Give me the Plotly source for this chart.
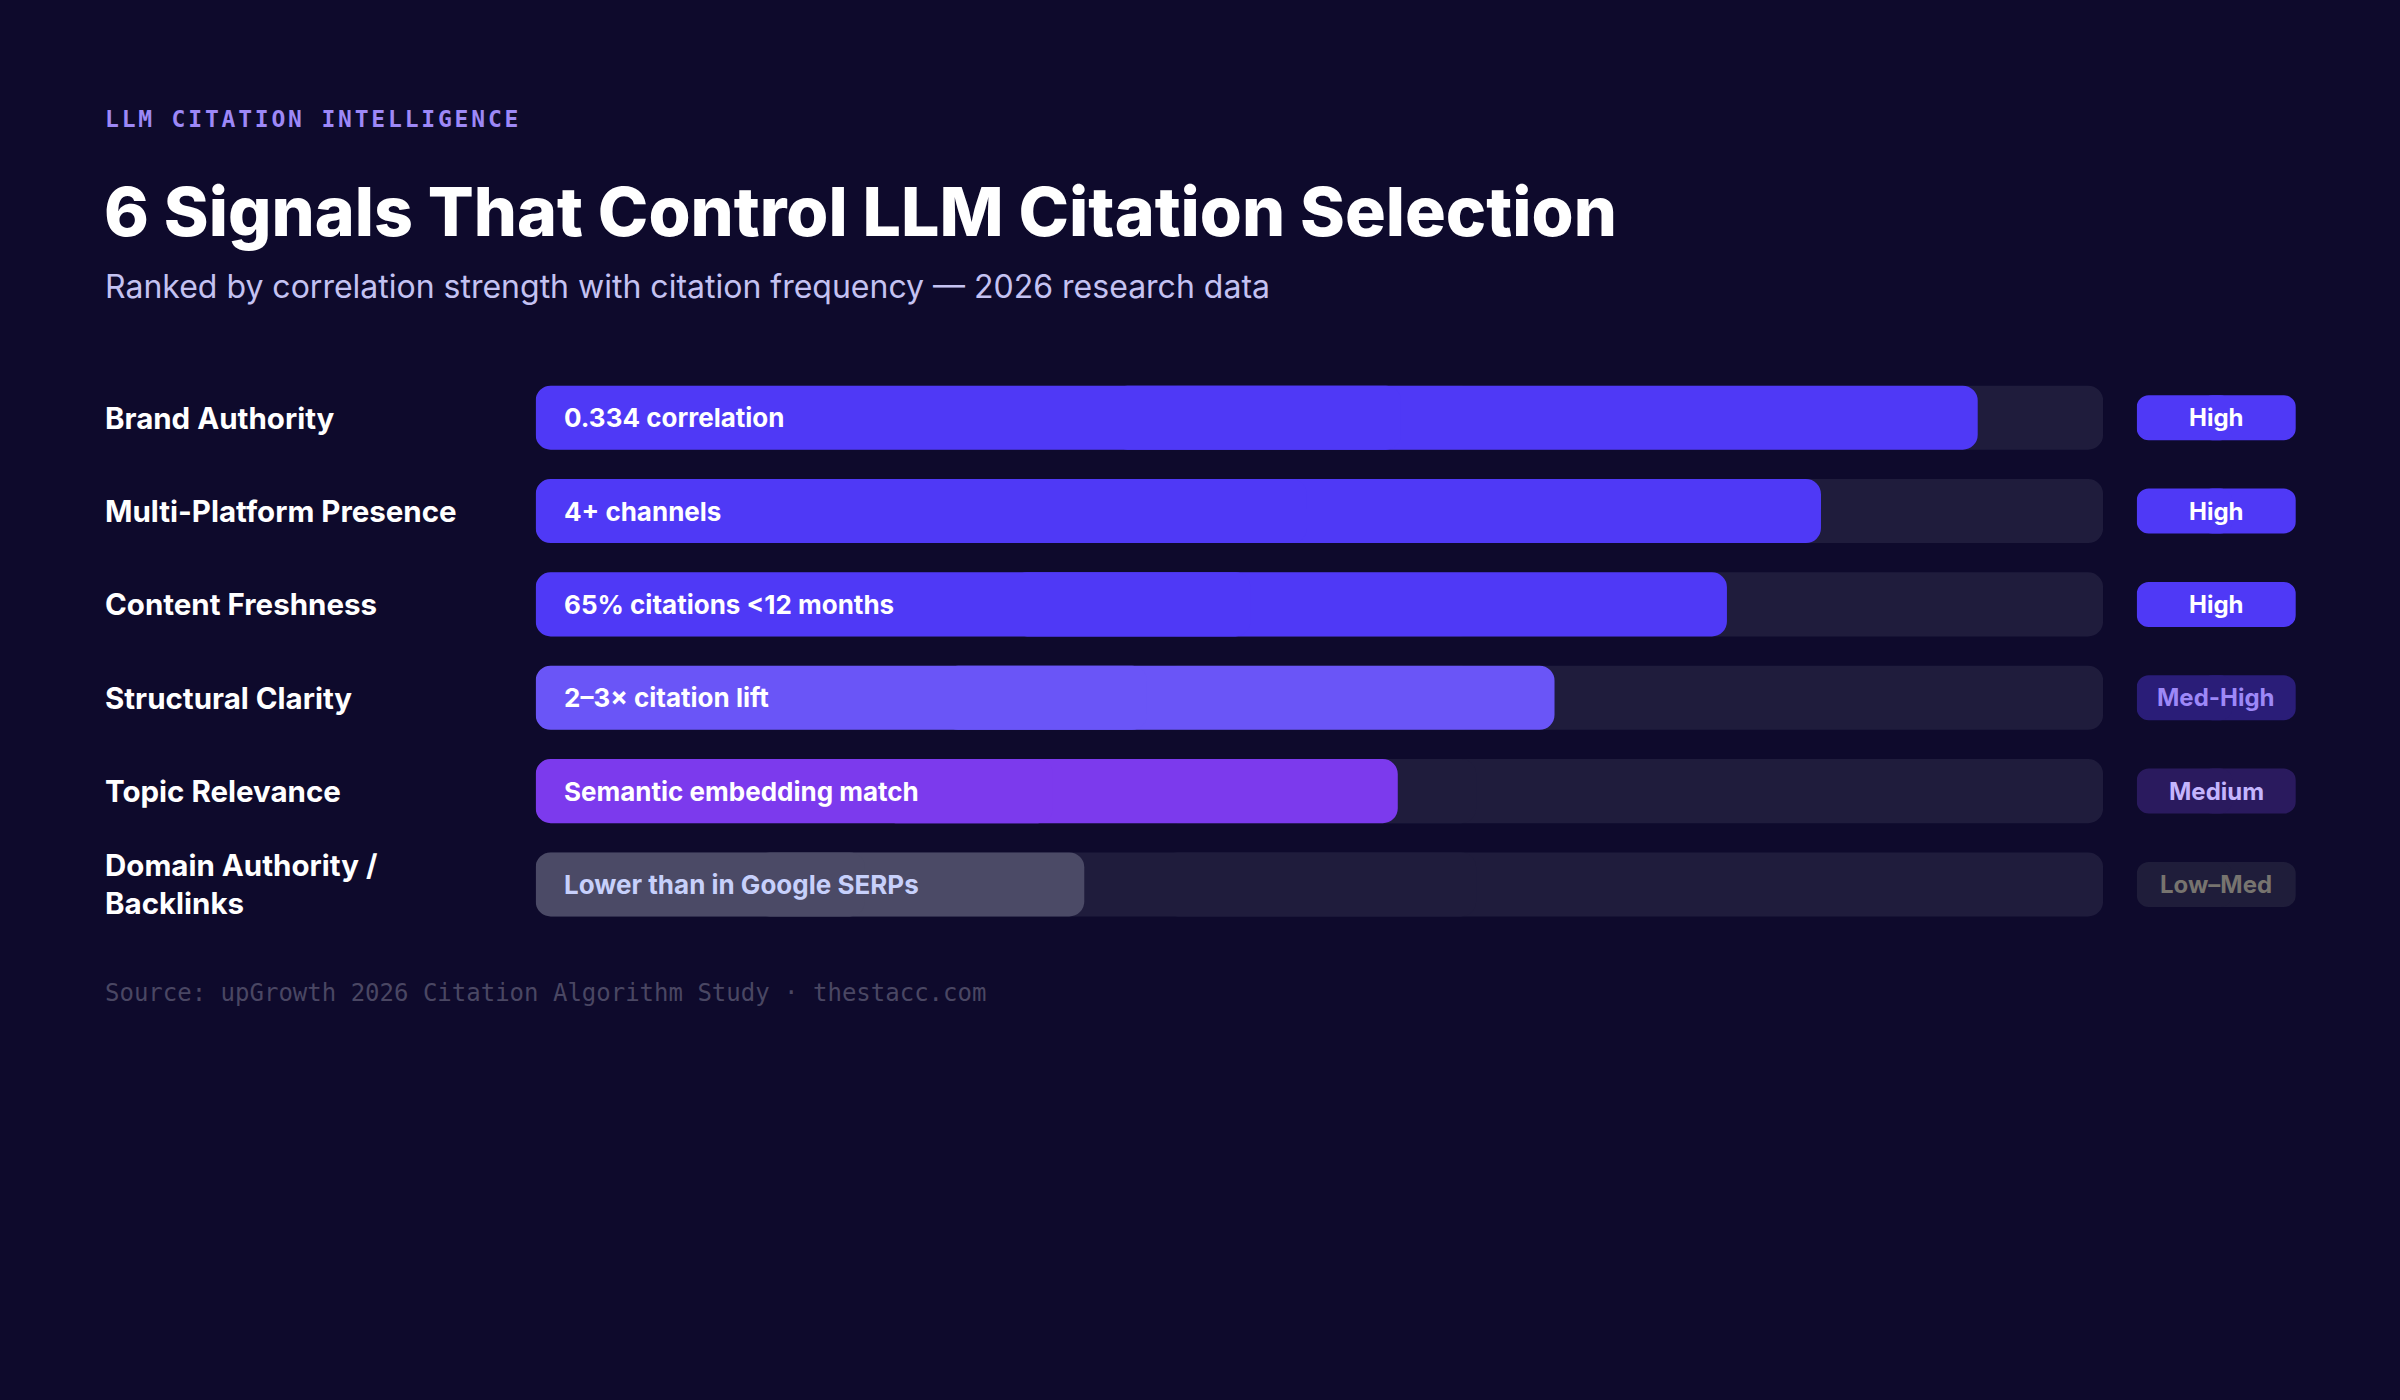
import plotly.graph_objects as go

# ---------------- data ----------------
signals = [
    "Brand Authority",
    "Multi-Platform Presence",
    "Content Freshness",
    "Structural Clarity",
    "Topic Relevance",
    "Domain Authority /<br>Backlinks",
]
fill_pct = [92, 82, 76, 65, 55, 35]
bar_notes = [
    "0.334 correlation",
    "4+ channels",
    "65% citations &lt;12 months",
    "2–3× citation lift",
    "Semantic embedding match",
    "Lower than in Google SERPs",
]
strength = ["High", "High", "High", "Med-High", "Medium", "Low–Med"]

# ---------------- styles ----------------
BG = "#0e0a2c"
TRACK = "#1f1c3c"
bar_colors = ["#4f39f6", "#4f39f6", "#4f39f6", "#6a55f7", "#7c3aed", "#4b4a66"]
note_colors = ["#ffffff", "#ffffff", "#ffffff", "#ffffff", "#ffffff", "#c7d0fb"]
badge_fill = ["#4f39f6", "#4f39f6", "#4f39f6", "#2a1d78", "#2a1a5e", "#1f1d3a"]
badge_text = ["#ffffff", "#ffffff", "#ffffff", "#9d88f7", "#c4b5fd", "#77746f"]

SANS = "Inter, 'Noto Sans', sans-serif"
MONO = "'DejaVu Sans Mono', 'Liberation Mono', monospace"

BAR_W = 0.686
BADGE_W = 0.482
TRACK_MAX = 100

fig = go.Figure()


def pill(x_full, colors, width, radius, xaxis):
    """Draw a bar rounded at both ends as two overlapping halves."""
    right_base = [v * 0.4 for v in x_full]
    right_len = [v * 0.6 for v in x_full]
    left_base = [v * 0.6 for v in x_full]
    left_len = [-v * 0.6 for v in x_full]
    for base, length in ((right_base, right_len), (left_base, left_len)):
        fig.add_bar(
            y=signals, x=length, base=base, orientation="h",
            marker=dict(color=colors, cornerradius=radius, line=dict(width=0)),
            width=width, xaxis=xaxis, yaxis="y",
            hoverinfo="skip", showlegend=False,
        )


# tracks
pill([TRACK_MAX] * len(signals), TRACK, BAR_W, 15, "x")
# filled values
pill(fill_pct, bar_colors, BAR_W, 15, "x")
# strength badges
pill([1] * len(signals), badge_fill, BADGE_W, 12, "x2")

annotations = []
# left labels
for s in signals:
    annotations.append(dict(
        text=s, xref="paper", x=0.0430, yref="y", y=s,
        xanchor="left", yanchor="middle", align="left", showarrow=False,
        font=dict(family=SANS, size=29.5, color="#ffffff", weight=700),
    ))
# bar notes
for s, t, c in zip(signals, bar_notes, note_colors):
    annotations.append(dict(
        text=t, xref="x", x=0, yref="y", y=s, xshift=26,
        xanchor="left", yanchor="middle", showarrow=False,
        font=dict(family=SANS, size=26, color=c, weight=700),
    ))
# badge texts
for s, t, c in zip(signals, strength, badge_text):
    annotations.append(dict(
        text=t, xref="x2", x=0.5, yref="y", y=s,
        xanchor="center", yanchor="middle", showarrow=False,
        font=dict(family=SANS, size=24, color=c, weight=700),
    ))

# header / footer
annotations += [
    dict(text='<span style="letter-spacing:2.8px">LLM CITATION INTELLIGENCE</span>',
         xref="paper", yref="paper", x=0.0430, y=0.9147, xanchor="left", yanchor="middle",
         showarrow=False, font=dict(family=MONO, size=23, color="#9d88f7", weight=700)),
    dict(text="6 Signals That Control LLM Citation Selection",
         xref="paper", yref="paper", x=0.0425, y=0.849, xanchor="left", yanchor="middle",
         showarrow=False, font=dict(family=SANS, size=68, color="#ffffff", weight=800)),
    dict(text="Ranked by correlation strength with citation frequency — 2026 research data",
         xref="paper", yref="paper", x=0.0430, y=0.795, xanchor="left", yanchor="middle",
         showarrow=False, font=dict(family=SANS, size=32, color="#c4c2f2", weight=400)),
    dict(text="Source: upGrowth 2026 Citation Algorithm Study · thestacc.com",
         xref="paper", yref="paper", x=0.0430, y=0.2905, xanchor="left", yanchor="middle",
         showarrow=False, font=dict(family=MONO, size=24, color="#4a4763")),
]

hidden = dict(showgrid=False, zeroline=False, showticklabels=False,
              showline=False, ticks="", fixedrange=True)

fig.update_layout(
    width=2400, height=1400,
    margin=dict(l=0, r=0, t=0, b=0),
    paper_bgcolor=BG, plot_bgcolor=BG,
    barmode="overlay", showlegend=False,
    xaxis=dict(domain=[0.2232, 0.8763], range=[0, TRACK_MAX], anchor="y", **hidden),
    xaxis2=dict(domain=[0.8903, 0.9566], range=[0, 1], anchor="y", **hidden),
    yaxis=dict(domain=[0.3349, 0.7350], range=[5.5, -0.5], type="category",
               categoryorder="array", categoryarray=signals, **hidden),
    annotations=annotations,
)

fig.write_html("out.html", config={"displayModeBar": False},
               post_script="document.body.style.margin='0';")
